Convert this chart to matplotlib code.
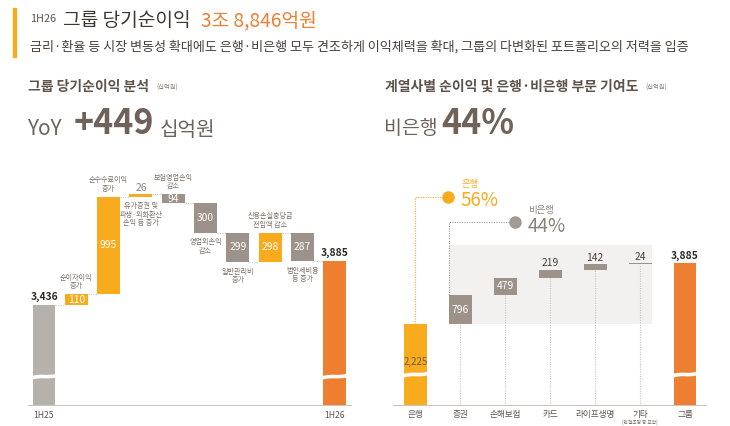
import matplotlib
matplotlib.use("Agg")
import matplotlib.pyplot as plt
from matplotlib.path import Path
from matplotlib.patches import PathPatch, Rectangle

plt.rcParams['font.family'] = ['Noto Sans CJK KR', 'DejaVu Sans']

# ---- data ----
wf_names = ['1H25', '순이자이익\n증가', '순수수료이익\n증가', '유가증권 및\n파생·외화환산\n손익 등 증가',
            '보험영업손익\n감소', '영업외손익\n감소', '일반관리비\n증가', '신용손실충당금\n전입액 감소',
            '법인세비용\n등 증가', '1H26']
wf_values = [3436, 110, 995, 26, -94, -300, -299, 298, -287, 3885]

sub_names = ['은행', '증권', '손해보험', '카드', '라이프생명', '기타', '그룹']
sub_values = [2225, 796, 479, 219, 142, 24, 3885]
bank_share = 56
nonbank_share = 44

# ---- colours ----
YELLOW = '#f9ab1e'
ORANGE = '#ee7e30'
TAUPE = '#9c928a'
LIGHTGRAY = '#b6b1ab'
DOT = '#c9c4be'
TXT = '#5e534b'

W, H = 730, 426
fig = plt.figure(figsize=(7.3, 4.26), dpi=100)


def fx(x):
    return x / W


def fy(y):
    return 1 - y / H


def squiggle(ax, xc, w, y0, d):
    x0, x1 = xc - w / 2 - 0.03, xc + w / 2 + 0.03
    verts = [(x0, y0 - d * 0.4), (x0 + w * 0.45, y0 + d * 0.9), (x1 - w * 0.45, y0 - d * 0.5), (x1, y0 + d * 0.6)]
    codes = [Path.MOVETO, Path.CURVE4, Path.CURVE4, Path.CURVE4]
    ax.add_patch(PathPatch(Path(verts, codes), fill=False, ec='white', lw=2.6, zorder=5))


# ---- header ----
fig.patches.append(Rectangle((fx(13), fy(57)), 3 / W, 49 / H, transform=fig.transFigure,
                             color=YELLOW, zorder=3))
fig.text(fx(30), fy(19), '1H26', fontsize=7.8, color=TXT, va='center')
fig.text(fx(63), fy(21), '그룹 당기순이익', fontsize=13.8, color='#3f3630', va='center')
fig.text(fx(201), fy(21), '3조 8,846억원', fontsize=13.8, color=ORANGE, va='center')
fig.text(fx(30), fy(47), '금리·환율 등 시장 변동성 확대에도 은행·비은행 모두 견조하게 이익체력을 확대, '
         '그룹의 다변화된 포트폴리오의 저력을 입증', fontsize=9.45, color='#4a403a', va='center')

# ---- section titles ----
fig.text(fx(28), fy(87), '그룹 당기순이익 분석', fontsize=10, color=TXT, weight='bold', va='center')
fig.text(fx(156), fy(88), '(십억원)', fontsize=4.5, color='#8a8079', va='center')
fig.text(fx(27), fy(129), 'YoY', fontsize=15, color='#6e6259', va='center')
fig.text(fx(74), fy(124), '+449', fontsize=24.5, color='#6e6259', weight='bold', va='center')
fig.text(fx(160), fy(130), '십억원', fontsize=14.5, color='#6e6259', va='center')

fig.text(fx(385), fy(87), '계열사별 순이익 및 은행·비은행 부문 기여도', fontsize=10, color=TXT,
         weight='bold', va='center')
fig.text(fx(645), fy(88), '(십억원)', fontsize=4.5, color='#8a8079', va='center')
fig.text(fx(384), fy(128), '비은행', fontsize=14, color='#6e6259', va='center')
fig.text(fx(441), fy(124), f'{nonbank_share}%', fontsize=24.5, color='#6e6259', weight='bold', va='center')

# ---- left: waterfall ----
ax1 = fig.add_axes([fx(28), fy(406), fx(352) - fx(28), 246 / H])
base = 2405
ax1.set_xlim(-0.495, 9.535)
ax1.set_ylim(base, base + 246 / 0.098)
ax1.axis('off')
bw = 0.71

running = wf_values[0]
levels = [running]
ax1.bar(0, wf_values[0] - base, bottom=base, width=bw, color=LIGHTGRAY, zorder=2)
for i, v in enumerate(wf_values[1:-1], start=1):
    bottom = running if v > 0 else running + v
    col = YELLOW if v > 0 else TAUPE
    ax1.bar(i, abs(v), bottom=bottom, width=bw, color=col, zorder=2)
    top = bottom + abs(v)
    if abs(v) > 50:
        ax1.text(i, bottom + abs(v) / 2, f'{abs(v)}', ha='center', va='center', color='white',
                 fontsize=7.4, zorder=4)
    else:
        ax1.annotate(f'{abs(v)}', (i, top), xytext=(0, 1), textcoords='offset points',
                     ha='center', va='bottom', color='#8b8179', fontsize=7.4)
    # annotation text: above or below
    above = i in (1, 2, 4, 7)
    if above:
        ax1.annotate(wf_names[i], (i, top), xytext=(0, 3), textcoords='offset points', ha='center',
                     va='bottom', fontsize=5.1, color='#7a6f66', linespacing=1.05)
    else:
        ax1.annotate(wf_names[i], (i, bottom), xytext=(0, -4), textcoords='offset points', ha='center',
                     va='top', fontsize=5.1, color='#7a6f66', linespacing=1.05)
    running += v
    levels.append(running)

last = len(wf_values) - 1
ax1.bar(last, wf_values[-1] - base, bottom=base, width=bw, color=ORANGE, zorder=2)

for i, lv in enumerate(levels):
    ax1.plot([i + bw / 2, i + 1 - bw / 2], [lv, lv], ls=(0, (1, 1.2)), color=DOT, lw=0.8, zorder=1)

ax1.annotate(f'{wf_values[0]:,}', (0, wf_values[0]), xytext=(0, 2), textcoords='offset points',
             ha='center', va='bottom', fontsize=7.4, weight='bold', color='#2e2824')
ax1.annotate(f'{wf_values[-1]:,}', (last, wf_values[-1]), xytext=(0, 2), textcoords='offset points',
             ha='center', va='bottom', fontsize=7.4, weight='bold', color='#2e2824')
squiggle(ax1, 0, bw, base + 29 / 0.098, 25)
squiggle(ax1, last, bw, base + 29 / 0.098, 25)

ax1.axhline(base, color=DOT, lw=1.5, zorder=3)
for i in (0, last):
    ax1.text(i, -9 / 246, wf_names[i], transform=ax1.get_xaxis_transform(), ha='center', va='center',
             fontsize=6.2, color=TXT)

# ---- right: subsidiaries ----
ax2 = fig.add_axes([fx(393), fy(406), fx(707) - fx(393), 246 / H])
s2 = 0.0367
ax2.set_xlim(-0.50, 6.49)
ax2.set_ylim(0, 246 / s2)
ax2.axis('off')
bw2 = 0.51

ax2.add_patch(Rectangle((1 - bw2 / 2, sub_values[0]), 4 + bw2, 4390 - sub_values[0],
                        color='#f3f1ef', lw=0, zorder=0))

ax2.bar(0, sub_values[0], width=bw2, color=YELLOW, zorder=2)
ax2.text(0, 1200, f'{sub_values[0]:,}', ha='center', va='center', fontsize=7, color='#6b5d4f', zorder=4)

cum = sub_values[0]
for i, v in enumerate(sub_values[1:-1], start=1):
    ax2.bar(i, v, bottom=cum, width=bw2, color=TAUPE, zorder=2)
    ax2.plot([i, i], [0, cum], ls=(0, (1, 1.2)), color=DOT, lw=0.8, zorder=1)
    if v > 300:
        ax2.text(i, cum + v / 2, f'{v}', ha='center', va='center', color='white', fontsize=7.4, zorder=4)
    else:
        ax2.annotate(f'{v}', (i, cum + v), xytext=(0, 1), textcoords='offset points', ha='center',
                     va='bottom', fontsize=7.4, color='#4a403a')
    cum += v

g = len(sub_values) - 1
ax2.bar(g, sub_values[-1], width=bw2, color=ORANGE, zorder=2)
ax2.annotate(f'{sub_values[-1]:,}', (g, sub_values[-1]), xytext=(0, 2), textcoords='offset points',
             ha='center', va='bottom', fontsize=7.4, weight='bold', color='#2e2824')
squiggle(ax2, 0, bw2, 31 / s2, 80)
squiggle(ax2, g, bw2, 31 / s2, 80)

# bank callout
yb = (406 - 197) / s2
xb = (448 - 415.5) / 44.9
ax2.plot([0, 0, xb], [sub_values[0], yb, yb], ls=(0, (1, 1.2)), color=YELLOW, lw=0.8, zorder=1)
ax2.plot(xb, yb, 'o', color=YELLOW, ms=8, zorder=3)
ax2.text(xb + 0.3, yb + 12 / s2, '은행', fontsize=6.8, color=YELLOW, va='center')
ax2.text(xb + 0.28, yb - 4 / s2, f'{bank_share}%', fontsize=13.5, color=YELLOW, va='center')

# non-bank callout
yn = (406 - 222) / s2
xl = 1 - bw2 / 2
xn = (515 - 415.5) / 44.9
ax2.plot([xl, xl, xn], [sub_values[0] + sub_values[1], yn, yn], ls=(0, (1, 1.2)), color='#a39a92',
         lw=0.8, zorder=1)
ax2.plot(xn, yn, 'o', color='#a39a92', ms=8, zorder=3)
ax2.text(xn + 0.3, yn + 11 / s2, '비은행', fontsize=6.8, color='#8b8179', va='center')
ax2.text(xn + 0.28, yn - 5 / s2, f'{nonbank_share}%', fontsize=13.5, color='#8b8179', va='center')

ax2.axhline(0, color=DOT, lw=1.5, zorder=3)
for i, name in enumerate(sub_names):
    ax2.text(i, -9 / 246, name, transform=ax2.get_xaxis_transform(), ha='center', va='center',
             fontsize=6.2, color=TXT)
ax2.text(5, -16 / 246, '(연결조정 등 포함)', transform=ax2.get_xaxis_transform(), ha='center',
         va='center', fontsize=3.4, color='#7a6f66')

fig.savefig('out.png', dpi=100)
